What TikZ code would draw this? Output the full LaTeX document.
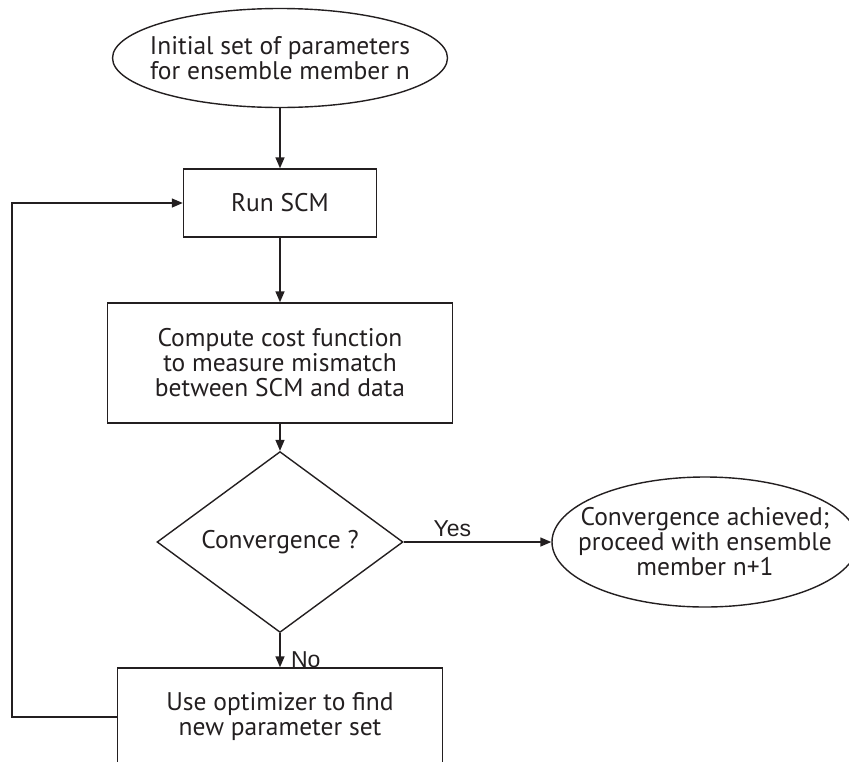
\documentclass[tikz,border=0pt]{standalone}
\usepackage{fontspec}
\newfontfamily\chartfont{PT Sans}
\newfontfamily\labelfont{Liberation Sans}
\usetikzlibrary{shapes.geometric,arrows.meta}
\definecolor{inkgray}{RGB}{35,31,32}
\tikzset{
    every picture/.style={line width=1.4pt, draw=inkgray},
    box/.style={rectangle, draw, align=center, inner sep=0pt,
        font=\chartfont\fontsize{25.5}{25}\selectfont, text=inkgray},
    terminal/.style={ellipse, draw, align=center, inner xsep=-60pt, inner ysep=-20pt,
        font=\chartfont\fontsize{25.5}{25}\selectfont, text=inkgray},
    decision/.style={diamond, draw, align=center, inner sep=0pt,
        font=\chartfont\fontsize{25.5}{25}\selectfont, text=inkgray},
    answer/.style={font=\labelfont\fontsize{23}{24}\selectfont, text=inkgray},
    flow/.style={draw=inkgray, -{Triangle[length=11pt,width=9pt]}}
}
\begin{document}
\begin{tikzpicture}[x=1pt, y=-1pt]
    \useasboundingbox (0,0) rectangle (849,761);
    \clip (0,0) rectangle (849,761);

    % Blocchi del diagramma
    \node[terminal, minimum width=335pt, minimum height=99pt] (init) at (280, 58)
        {Initial set of parameters\\for ensemble member n};
    \node[box, minimum width=193pt, minimum height=68pt] (run) at (280, 203) {Run SCM};
    \node[box, minimum width=345pt, minimum height=120pt] (cost) at (280, 363)
        {Compute cost function\\to measure mismatch\\between SCM and data};
    \node[decision, minimum width=246pt, minimum height=142pt] (conv) at (280, 542)
        {Convergence ?};
    \node[terminal, minimum width=306pt, minimum height=130pt] (done) at (705, 542)
        {Convergence achieved;\\proceed with ensemble\\member n+1};
    \node[box, minimum width=325pt, minimum height=98pt] (opt) at (280, 717)
        {Use optimizer to find\\new parameter set};
    \coordinate (loopbot) at (12, 717);
    \coordinate (looptop) at (12, 203);

    % Collegamenti
    \draw[flow] (init) -- (run);
    \draw[flow] (run) -- (cost);
    \draw[flow] (cost) -- (conv);
    \draw[flow] (conv) -- (done) node[answer, pos=0.33, above=1pt] {Yes};
    \draw[flow] (conv) -- (opt) node[answer, pos=0.78, right=7pt] {No};
    \draw[flow] (opt.west) -- (loopbot) -- (looptop) -- (run);
\end{tikzpicture}
\end{document}
